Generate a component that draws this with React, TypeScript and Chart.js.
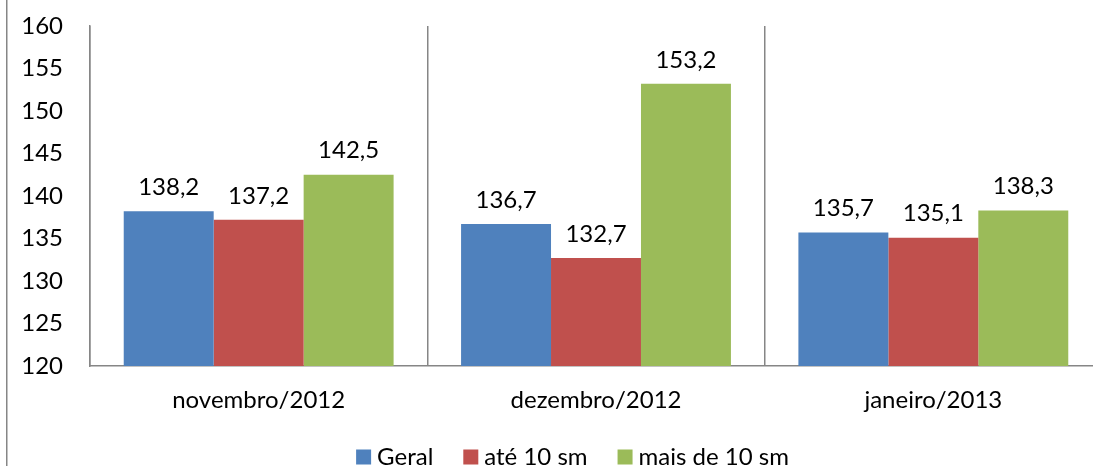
import React, { useEffect, useRef } from "react";
import { Chart, registerables } from "chart.js";

Chart.register(...registerables);

const categories = ["novembro/2012", "dezembro/2012", "janeiro/2013"];
const seriesNames = ["Geral", "até 10 sm", "mais de 10 sm"];
const geral = [138.2, 136.7, 135.7];
const ate10 = [137.2, 132.7, 135.1];
const mais10 = [142.5, 153.2, 138.3];
const seriesColors = ["#4F81BD", "#C0504D", "#9BBB59"];
const yMin = 120;
const yMax = 160;
const yStep = 5;

const FONT = "Lato, 'Noto Sans', sans-serif";
const FONT_SIZE = 24;
const LINE = "#868686";
const CANVAS_W = 1145;
const CANVAS_H = 466;

const fmt = (v: number) => v.toFixed(1).replace(".", ",");

const framePlugin = {
  id: "frame",
  beforeDraw(chart: any) {
    const { ctx } = chart;
    ctx.save();
    ctx.fillStyle = "#ffffff";
    ctx.fillRect(0, 0, chart.width, chart.height);
    ctx.fillStyle = LINE;
    ctx.fillRect(6, 0, 1.5, chart.height);
    ctx.restore();
  },
};

const labelPlugin = {
  id: "valueLabels",
  afterDatasetsDraw(chart: any) {
    const { ctx } = chart;
    ctx.save();
    ctx.font = `${FONT_SIZE}px ${FONT}`;
    ctx.fillStyle = "#000000";
    ctx.textAlign = "center";
    ctx.textBaseline = "middle";
    chart.data.datasets.forEach((ds: any, di: number) => {
      const meta = chart.getDatasetMeta(di);
      meta.data.forEach((el: any, i: number) => {
        ctx.fillText(fmt(ds.data[i]), el.x, el.y - 24);
      });
    });
    ctx.restore();
  },
};

const legendPlugin = {
  id: "customLegend",
  afterDraw(chart: any) {
    const { ctx } = chart;
    const box = 15;
    const gapText = 6;
    const gapItem = 30;
    ctx.save();
    ctx.font = `${FONT_SIZE}px ${FONT}`;
    const items = chart.data.datasets.map((ds: any) => ({
      text: ds.label,
      color: ds.backgroundColor,
      w: box + gapText + ctx.measureText(ds.label).width,
    }));
    const total = items.reduce((s: number, it: any) => s + it.w, 0) + gapItem * (items.length - 1);
    let x = chart.width / 2 - total / 2;
    const cy = chart.height - 9;
    ctx.textBaseline = "middle";
    ctx.textAlign = "left";
    items.forEach((it: any) => {
      ctx.fillStyle = it.color;
      ctx.fillRect(x, cy - box / 2, box, box);
      ctx.fillStyle = "#000000";
      ctx.fillText(it.text, x + box + gapText, cy);
      x += it.w + gapItem;
    });
    ctx.restore();
  },
};

export default function App() {
  const ref = useRef<HTMLCanvasElement | null>(null);

  useEffect(() => {
    if (!ref.current) return;
    const series = [geral, ate10, mais10];
    const chart = new Chart(ref.current, {
      type: "bar",
      data: {
        labels: categories,
        datasets: series.map((data, i) => ({
          label: seriesNames[i],
          data,
          backgroundColor: seriesColors[i],
          borderWidth: 0,
          categoryPercentage: 0.8,
          barPercentage: 1.0,
        })),
      },
      options: {
        responsive: false,
        animation: false,
        devicePixelRatio: 1,
        layout: { padding: { top: 26, right: CANVAS_W - 1102, bottom: 0, left: 0 } },
        plugins: {
          legend: { display: false },
          tooltip: { enabled: false },
        },
        scales: {
          x: {
            offset: true,
            grid: {
              display: true,
              offset: true,
              color: LINE,
              lineWidth: 1.5,
              drawTicks: false,
            },
            border: { display: true, color: LINE, width: 1.5 },
            ticks: {
              padding: 20,
              color: "#000000",
              font: { family: FONT, size: FONT_SIZE },
            },
            afterFit(scale: any) {
              scale.height = 100;
              scale.paddingLeft = 0;
              scale.paddingRight = 0;
            },
          },
          y: {
            min: yMin,
            max: yMax,
            grid: { display: false, drawTicks: false },
            border: { display: true, color: LINE, width: 1.5 },
            ticks: {
              stepSize: yStep,
              padding: 27,
              color: "#000000",
              font: { family: FONT, size: FONT_SIZE },
            },
            afterFit(scale: any) {
              scale.width = 90;
              scale.paddingTop = 0;
              scale.paddingBottom = 0;
            },
          },
        },
      },
      plugins: [framePlugin, labelPlugin, legendPlugin],
    });
    return () => chart.destroy();
  }, []);

  return (
    <div
      style={{
        position: "fixed",
        left: 0,
        top: 0,
        width: 1093,
        height: CANVAS_H,
        overflow: "hidden",
        background: "#fff",
      }}
    >
      <canvas ref={ref} width={CANVAS_W} height={CANVAS_H} style={{ display: "block" }} />
    </div>
  );
}
